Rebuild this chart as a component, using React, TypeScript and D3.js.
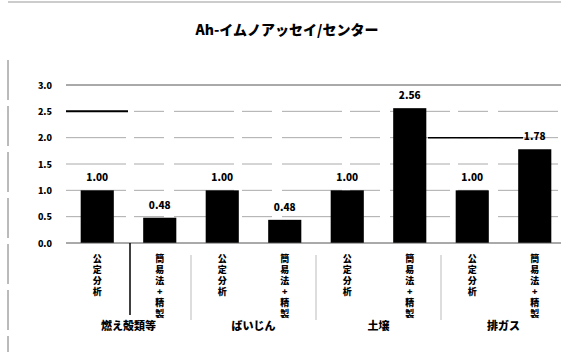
import React, { useEffect, useRef } from "react";
import * as d3 from "d3";

const title = "Ah-イムノアッセイ/センター";
const groups = ["燃え殻類等", "ばいじん", "土壌", "排ガス"];
const methods = ["公定分析", "簡易法+精製"];
const values = [1.0, 0.48, 1.0, 0.44, 1.0, 2.56, 1.0, 1.78];
const valueLabels = ["1.00", "0.48", "1.00", "0.48", "1.00", "2.56", "1.00", "1.78"];
const yTicks = [0, 0.5, 1.0, 1.5, 2.0, 2.5, 3.0];

const W = 561;
const H = 355;
const FONT = "'Noto Sans CJK JP', 'Noto Sans', sans-serif";

export default function App() {
  const ref = useRef<SVGSVGElement | null>(null);

  useEffect(() => {
    const svg = d3.select(ref.current);
    svg.selectAll("*").remove();

    const left = 66;
    const right = 566;
    const y = d3.scaleLinear().domain([0, 3]).range([243, 85]);
    const barKeys = values.map((_, i) => String(i));
    const x = d3.scaleBand().domain(barKeys).range([left, right]).paddingInner(0.47).paddingOuter(0.235);
    const gx = d3.scaleBand().domain(groups).range([left, right]);

    svg.append("rect").attr("width", W).attr("height", H).attr("fill", "#fff");

    // frame
    svg.append("line").attr("x1", 8).attr("x2", 8).attr("y1", 60).attr("y2", 352)
      .attr("stroke", "#777").attr("stroke-dasharray", "40,6");
    svg.append("line").attr("x1", 8).attr("x2", W).attr("y1", 2).attr("y2", 2)
      .attr("stroke", "#999");

    // title
    svg.append("text").attr("x", 287).attr("y", 35).attr("text-anchor", "middle")
      .attr("font-family", FONT).attr("font-weight", 900).attr("font-size", 14)
      .text(title);

    // gridlines
    svg.append("g").selectAll("line").data(yTicks.slice(1)).join("line")
      .attr("x1", left).attr("x2", W)
      .attr("y1", (d) => y(d)).attr("y2", (d) => y(d))
      .attr("stroke", (d) => (d === 3 ? "#555" : "#aaa"))
      .attr("stroke-width", 1)
      .attr("stroke-dasharray", (d) => (d === 3 ? "none" : "60,8,30,10"));

    // tick labels
    svg.append("g").selectAll("text").data(yTicks).join("text")
      .attr("x", 52).attr("y", (d) => y(d) + 3.5).attr("text-anchor", "end")
      .attr("font-family", FONT).attr("font-weight", 900).attr("font-size", 9)
      .text((d) => d3.format(".1f")(d));

    // bars
    svg.append("g").selectAll("rect").data(values).join("rect")
      .attr("x", (_, i) => x(String(i))!)
      .attr("width", x.bandwidth())
      .attr("y", (d) => y(d))
      .attr("height", (d) => y(0) - y(d))
      .attr("fill", "#000");

    // baseline
    svg.append("line").attr("x1", left).attr("x2", W).attr("y1", y(0)).attr("y2", y(0))
      .attr("stroke", "#555").attr("stroke-width", 1);

    // value labels
    svg.append("g").selectAll("text").data(values).join("text")
      .attr("x", (_, i) => x(String(i))! + x.bandwidth() / 2)
      .attr("y", (d) => y(d) - 9)
      .attr("text-anchor", "middle")
      .attr("font-family", FONT).attr("font-weight", 900).attr("font-size", 10)
      .text((_, i) => valueLabels[i]);

    // vertical bar labels
    svg.append("g").selectAll("text").data(values).join("text")
      .attr("x", (_, i) => x(String(i))! + x.bandwidth() / 2)
      .attr("y", 254)
      .attr("font-family", FONT).attr("font-weight", 900).attr("font-size", 9)
      .style("writing-mode", "vertical-rl")
      .style("text-orientation", "upright")
      .style("letter-spacing", "2px")
      .text((_, i) => methods[i % 2]);

    // group separators
    groups.slice(1).forEach((g) => {
      const sx = gx(g)!;
      svg.append("line").attr("x1", sx).attr("x2", sx).attr("y1", 255).attr("y2", 320)
        .attr("stroke", "#bbb").attr("stroke-width", 1);
    });

    // group labels
    svg.append("g").selectAll("text").data(groups).join("text")
      .attr("x", (d) => gx(d)! + gx.bandwidth() / 2)
      .attr("y", 330).attr("text-anchor", "middle")
      .attr("font-family", FONT).attr("font-weight", 900).attr("font-size", 11)
      .text((d) => d);

    // scan artefact lines from the original
    svg.append("line").attr("x1", left).attr("x2", 128).attr("y1", y(2.5)).attr("y2", y(2.5))
      .attr("stroke", "#000").attr("stroke-width", 2);
    svg.append("line").attr("x1", 428).attr("x2", 523).attr("y1", y(2.0)).attr("y2", y(2.0))
      .attr("stroke", "#000").attr("stroke-width", 1.5);
    svg.append("line").attr("x1", 130).attr("x2", 130).attr("y1", y(0)).attr("y2", 315)
      .attr("stroke", "#000").attr("stroke-width", 1.5);
  }, []);

  return (
    <svg
      ref={ref}
      width={W}
      height={H}
      style={{ position: "absolute", left: 0, top: 0, display: "block" }}
    />
  );
}
